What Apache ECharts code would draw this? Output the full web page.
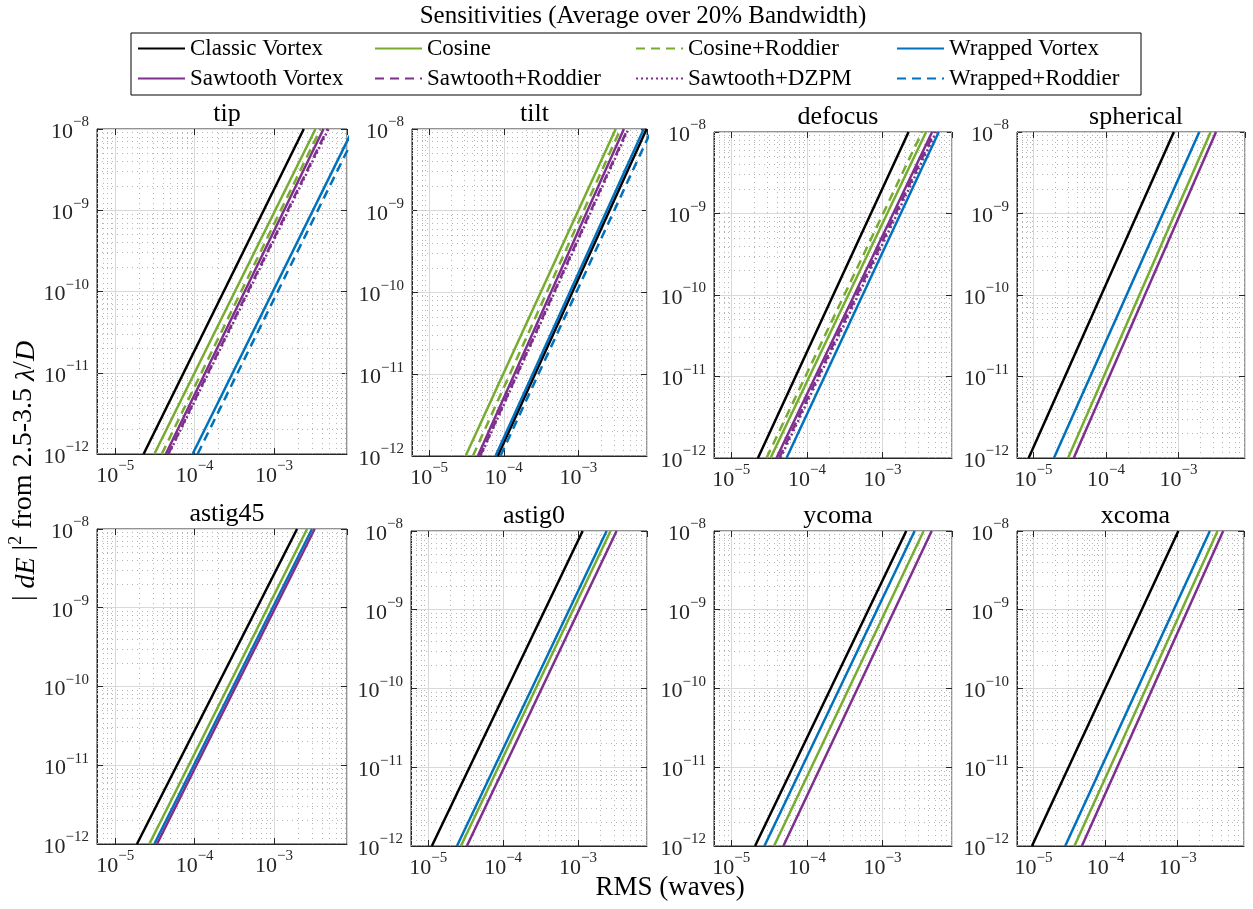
<!DOCTYPE html>
<html><head><meta charset="utf-8">
<script src="https://cdn.jsdelivr.net/npm/echarts@6/dist/echarts.min.js"></script>
<style>html,body{margin:0;padding:0;background:#fff}#c{width:1253px;height:909px}</style>
</head><body><div id="c"></div><script>
// ---------------- data ----------------
const panelNames = ['tip', 'tilt', 'defocus', 'spherical', 'astig45', 'astig0', 'ycoma', 'xcoma'];
const seriesNames = ['Classic Vortex', 'Cosine', 'Cosine+Roddier', 'Wrapped Vortex',
                     'Sawtooth Vortex', 'Sawtooth+Roddier', 'Sawtooth+DZPM', 'Wrapped+Roddier'];
// |dE|^2 levels at which the crossing RMS values were read
const yLow = 1e-12, yHigh = 1e-8;
// RMS (waves) where each curve crosses yLow / yHigh (order = seriesNames, null = not plotted)
const tipLow        = [2.28e-5, 3.11e-5, 3.86e-5, 9.44e-5, 4.34e-5, 4.66e-5, 4.73e-5, 1.09e-4];
const tipHigh       = [2.37e-3, 3.33e-3, 3.85e-3, 9.91e-3, 4.20e-3, 4.71e-3, 4.85e-3, 1.14e-2];
const tiltLow       = [8.32e-5, 3.08e-5, 3.86e-5, 7.76e-5, 4.50e-5, 4.82e-5, 4.90e-5, 9.04e-5];
const tiltHigh      = [8.20e-3, 3.16e-3, 3.67e-3, 7.52e-3, 4.07e-3, 4.57e-3, 4.68e-3, 9.68e-3];
const defocusLow    = [2.25e-5, 3.30e-5, 2.92e-5, 5.37e-5, 3.96e-5, 4.29e-5, 4.47e-5, null];
const defocusHigh   = [2.21e-3, 3.77e-3, 3.33e-3, 5.55e-3, 4.53e-3, 4.86e-3, 5.12e-3, null];
const sphericalLow  = [8.55e-6, 2.99e-5, null, 1.91e-5, 3.58e-5, null, null, null];
const sphericalHigh = [8.65e-4, 2.79e-3, null, 1.94e-3, 3.30e-3, null, null, null];
const astig45Low    = [1.88e-5, 2.69e-5, null, 3.11e-5, 3.36e-5, null, null, null];
const astig45High   = [1.95e-3, 2.61e-3, null, 3.01e-3, 3.25e-3, null, null, null];
const astig0Low     = [1.12e-5, 2.73e-5, null, 2.42e-5, 3.28e-5, null, null, null];
const astig0High    = [1.15e-3, 2.71e-3, null, 2.40e-3, 3.26e-3, null, null, null];
const ycomaLow      = [2.06e-5, 3.67e-5, null, 2.74e-5, 4.88e-5, null, null, null];
const ycomaHigh     = [2.06e-3, 3.50e-3, null, 2.66e-3, 4.47e-3, null, null, null];
const xcomaLow      = [9.51e-6, 3.69e-5, null, 2.75e-5, 4.68e-5, null, null, null];
const xcomaHigh     = [1.02e-3, 3.57e-3, null, 2.79e-3, 4.27e-3, null, null, null];
// axis limits
const xMin = 5.9e-6, xMax = 8.3e-3;
const yMin = 1e-12, yMax = 1e-8;

// ---------------- layout / style ----------------
const lowSets  = [tipLow, tiltLow, defocusLow, sphericalLow, astig45Low, astig0Low, ycomaLow, xcomaLow];
const highSets = [tipHigh, tiltHigh, defocusHigh, sphericalHigh, astig45High, astig0High, ycomaHigh, xcomaHigh];
const boxes = [
  [97, 129, 250, 325], [412, 129, 235, 327], [714, 132, 238, 326], [1017, 132, 228, 326],
  [97, 529, 250, 315], [411, 531, 236, 315], [714, 531, 238, 315], [1017, 531, 227, 315]
];
const GREEN = '#77AC30', PURPLE = '#7E2F8E', BLUE = '#0072BD';
const styles = {
  'Classic Vortex':   { color: '#000000', type: 'solid' },
  'Cosine':           { color: GREEN, type: 'solid' },
  'Cosine+Roddier':   { color: GREEN, type: [9, 6] },
  'Wrapped Vortex':   { color: BLUE, type: 'solid' },
  'Sawtooth Vortex':  { color: PURPLE, type: 'solid' },
  'Sawtooth+Roddier': { color: PURPLE, type: [9, 6] },
  'Sawtooth+DZPM':    { color: PURPLE, type: [2, 3] },
  'Wrapped+Roddier':  { color: BLUE, type: [9, 6] }
};
const FONT = 'Liberation Serif';
const INK = '#262626';

function decadeLabel(v) {
  const e = Math.log10(v), r = Math.round(e);
  if (Math.abs(e - r) > 1e-6) return '';
  return '{b|10}{e|' + (r < 0 ? '\u2212' + (-r) : r) + '}';
}
const labelRich = {
  b: { fontSize: 22, fontFamily: FONT, color: INK, verticalAlign: 'bottom', lineHeight: 28 },
  e: { fontSize: 15, fontFamily: FONT, color: INK, verticalAlign: 'top', lineHeight: 28 }
};
function minorValues(lo, hi) {
  const out = [];
  for (let d = Math.floor(Math.log10(lo)); d <= Math.ceil(Math.log10(hi)); d++) {
    for (let m = 2; m <= 9; m++) {
      const v = m * Math.pow(10, d);
      if (v > lo && v < hi) out.push(v);
    }
  }
  return out;
}
const xMinor = minorValues(xMin, xMax);
const yMinor = minorValues(yMin, yMax);
const minorGridLines = xMinor.map(v => [{ coord: [v, yMin] }, { coord: [v, yMax] }])
  .concat(yMinor.map(v => [{ coord: [xMin, v] }, { coord: [xMax, v] }]));

const grid = [], xAxis = [], yAxis = [], series = [], titles = [];
boxes.forEach((b, i) => {
  grid.push({ left: b[0], top: b[1], width: b[2], height: b[3], show: true,
              borderColor: INK, borderWidth: 1, backgroundColor: '#fff' });
  const common = {
    type: 'log', logBase: 10, gridIndex: i,
    axisLine: { show: true, lineStyle: { color: INK, width: 1 } },
    axisTick: { show: true, inside: true, length: 6, lineStyle: { color: INK } },
    splitLine: { show: true, lineStyle: { color: '#d9d9d9', width: 1 } },
    minorTick: { show: false }, minorSplitLine: { show: false }
  };
  xAxis.push(Object.assign({}, common, {
    min: xMin, max: xMax,
    axisLabel: { margin: 5, formatter: decadeLabel, rich: labelRich, showMinLabel: false, showMaxLabel: false }
  }));
  yAxis.push(Object.assign({}, common, {
    min: yMin, max: yMax,
    axisLabel: { margin: 8, formatter: decadeLabel, rich: labelRich }
  }));
  titles.push({
    text: panelNames[i], left: b[0] + b[2] / 2, top: b[1] - 33, textAlign: 'center',
    textStyle: { fontFamily: FONT, fontSize: 26, fontWeight: 'normal', color: '#000' }
  });
  // minor (dotted) grid lines
  series.push({
    type: 'line', name: '_grid' + i, xAxisIndex: i, yAxisIndex: i,
    data: [[xMin, yMin]], symbol: 'none', silent: true,
    lineStyle: { opacity: 0 }, z: 1,
    markLine: {
      silent: true, symbol: ['none', 'none'], label: { show: false }, z: 1, animation: false,
      lineStyle: { color: '#b4b4b4', type: [1, 4], width: 1 },
      emphasis: { disabled: true },
      data: minorGridLines
    }
  });
  seriesNames.forEach((name, k) => {
    const lo = lowSets[i][k], hi = highSets[i][k];
    if (lo == null) return;
    const st = styles[name];
    series.push({
      type: 'line', name: name, xAxisIndex: i, yAxisIndex: i,
      data: [[lo, yLow], [hi, yHigh]], symbol: 'none', showSymbol: false, clip: true,
      lineStyle: { color: st.color, width: 2.5, type: st.type },
      itemStyle: { color: st.color },
      emphasis: { disabled: true }, z: 3
    });
  });
});
// mirrored top / right axes (tick marks only, like a boxed plot)
boxes.forEach((b, i) => {
  const mirror = {
    type: 'log', logBase: 10, gridIndex: i,
    axisLine: { show: false }, axisLabel: { show: false }, splitLine: { show: false },
    axisTick: { show: true, inside: true, length: 6, lineStyle: { color: INK } }
  };
  xAxis.push(Object.assign({}, mirror, { min: xMin, max: xMax, position: 'top' }));
  yAxis.push(Object.assign({}, mirror, { min: yMin, max: yMax, position: 'right' }));
});

titles.push({
  text: 'Sensitivities (Average over 20% Bandwidth)', left: 638, top: -1, textAlign: 'center',
  textStyle: { fontFamily: FONT, fontSize: 25, fontWeight: 'normal', color: '#000' }
});

const legendCols = [
  [137, ['Classic Vortex', 'Sawtooth Vortex']],
  [374, ['Cosine', 'Sawtooth+Roddier']],
  [635, ['Cosine+Roddier', 'Sawtooth+DZPM']],
  [896, ['Wrapped Vortex', 'Wrapped+Roddier']]
];
const legend = legendCols.map(c => ({
  left: c[0], top: 37, orient: 'vertical', data: c[1], itemWidth: 47, itemHeight: 14,
  itemGap: 7, selectedMode: false, padding: 0,
  itemStyle: { color: 'rgba(0,0,0,0)', borderWidth: 0, opacity: 0 },
  textStyle: { fontFamily: FONT, fontSize: 23, color: '#000', lineHeight: 22, padding: [0, 0, 0, 0] }
}));

const option = {
  animation: false, backgroundColor: '#fff',
  title: titles, grid: grid, xAxis: xAxis, yAxis: yAxis, series: series, legend: legend,
  graphic: [
    { type: 'rect', shape: { x: 131, y: 33, width: 1010, height: 62 },
      style: { fill: 'none', stroke: '#000', lineWidth: 1 }, silent: true },
    { type: 'text', x: 24, y: 471, rotation: Math.PI / 2, silent: true,
      style: { text: '| {i|dE} |{s|2} from 2.5-3.5 {i|\u03bb}/{i|D}', align: 'center', verticalAlign: 'middle',
               fontFamily: FONT, fontSize: 28, fill: '#000',
               rich: { i: { fontStyle: 'italic', fontFamily: FONT, fontSize: 28, verticalAlign: 'bottom', lineHeight: 34 },
                       s: { fontFamily: FONT, fontSize: 18, verticalAlign: 'top', lineHeight: 34 } } } },
    { type: 'text', x: 670, y: 888, silent: true,
      style: { text: 'RMS (waves)', align: 'center', verticalAlign: 'middle',
               fontFamily: FONT, fontSize: 27, fill: '#000' } }
  ]
};
const chart = echarts.init(document.getElementById('c'), null, { renderer: 'canvas' });
chart.setOption(option);
</script></body></html>
